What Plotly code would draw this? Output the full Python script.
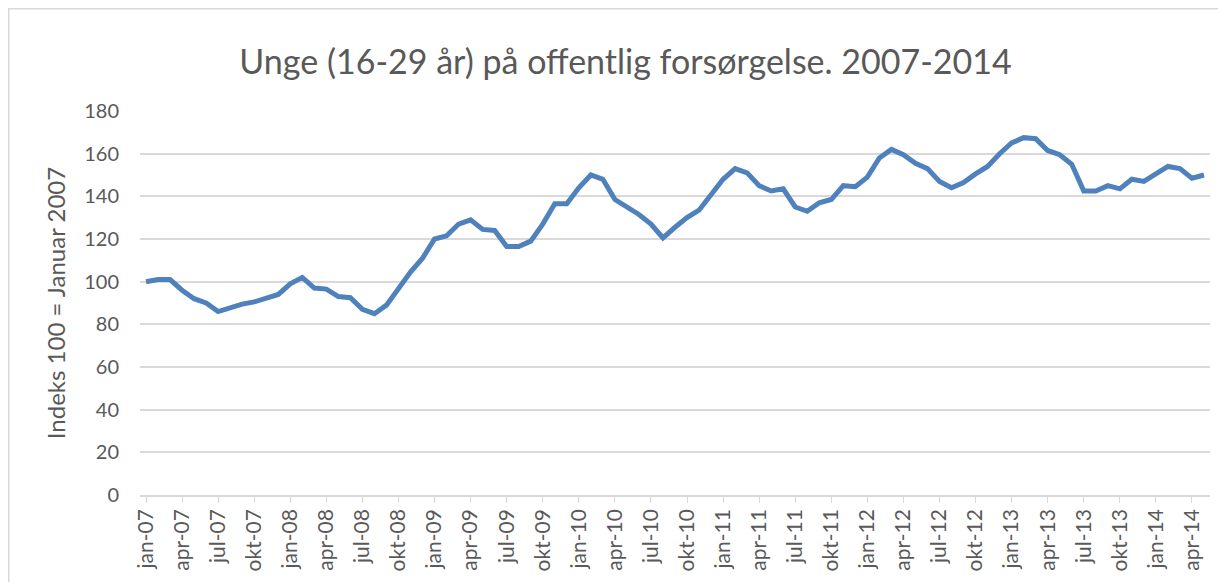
import plotly.graph_objects as go

# Categories: monthly, jan-07 .. may-14
month_abbr = ["jan", "feb", "mar", "apr", "mai", "jun", "jul", "aug", "sep", "okt", "nov", "des"]
years = ["07", "08", "09", "10", "11", "12", "13", "14"]
months = [f"{m}-{y}" for y in years for m in month_abbr][:89]

# Index values (100 = January 2007)
index_values = [
    100, 101, 101, 96, 92, 90, 86, 88, 89.5, 90.5, 92.5, 94,            # 2007
    99, 102, 97, 96.5, 93, 92.5, 87, 85, 89, 97, 104.5, 111,             # 2008
    120, 121.5, 127, 129, 124.5, 124, 116.5, 116.5, 119, 127, 136.5, 136.5,  # 2009
    144, 150, 148, 138.5, 135, 131.5, 127, 120.5, 125.5, 130, 133.5, 141,    # 2010
    148, 153, 151, 145, 142.5, 143.5, 135, 133, 137, 138.5, 145, 144.5,      # 2011
    149, 158, 162, 159.5, 155.5, 153, 147, 144, 146.5, 150.5, 154, 160,      # 2012
    165, 167.5, 167, 161.5, 159.5, 155, 142.5, 142.5, 145, 143.5, 148, 147,  # 2013
    150.5, 154, 153, 148.5, 150,                                          # 2014
]

tick_labels = months[::3]
y_ticks = [0, 20, 40, 60, 80, 100, 120, 140, 160, 180]

title_text = "Unge (16-29 år) på offentlig forsørgelse. 2007-2014"
y_title = "Indeks 100 = Januar 2007"

FONT = "Lato, 'Open Sans', sans-serif"
GRAY = "#595959"
GRID = "#D9D9D9"

W, H = 1218, 574
L, R, T, B = 132, 16, 103, 87
PW, PH = W - L - R, H - T - B

fig = go.Figure()
fig.add_trace(go.Scatter(
    x=months,
    y=index_values,
    mode="lines",
    line=dict(color="#4F81BD", width=5),
    showlegend=False,
    hoverinfo="x+y",
))

n = len(months)
fig.update_layout(
    width=W,
    height=H,
    margin=dict(l=L, r=R, t=T, b=B),
    paper_bgcolor="white",
    plot_bgcolor="white",
    title=dict(
        text=title_text,
        x=0.507, xanchor="center",
        y=0.906, yanchor="middle",
        font=dict(family=FONT, size=34, color=GRAY),
    ),
    xaxis=dict(
        type="category",
        range=[-0.5, n - 0.5],
        tickmode="array",
        tickvals=tick_labels,
        ticktext=tick_labels,
        tickangle=-90,
        ticks="",
        showgrid=False,
        showline=True,
        linecolor=GRID,
        linewidth=1.5,
        tickfont=dict(family=FONT, size=21, color=GRAY),
        ticklabelstandoff=4,
        minor=dict(
            tickvals=[months[i] for i in range(0, n, 3)],
            ticks="outside",
            ticklen=6,
            tickcolor=GRID,
            tickwidth=1,
            showgrid=False,
        ),
        fixedrange=True,
    ),
    yaxis=dict(
        range=[0, 180],
        tickmode="array",
        tickvals=y_ticks,
        showgrid=True,
        gridcolor=GRID,
        gridwidth=1.5,
        zeroline=False,
        showline=False,
        ticks="",
        ticklabelstandoff=20,
        tickfont=dict(family=FONT, size=20, color=GRAY),
        title=dict(text=y_title, font=dict(family=FONT, size=24, color=GRAY), standoff=11),
        fixedrange=True,
    ),
)

# Chart frame
fig.add_shape(
    type="rect", xref="paper", yref="paper",
    x0=(0.75 - L) / PW, x1=(W + 20 - L) / PW,
    y0=-(B + 20) / PH, y1=(PH + T - 0.75) / PH,
    line=dict(color=GRID, width=1.5),
    fillcolor="rgba(0,0,0,0)",
    layer="below",
)

fig.write_html("out.html")
